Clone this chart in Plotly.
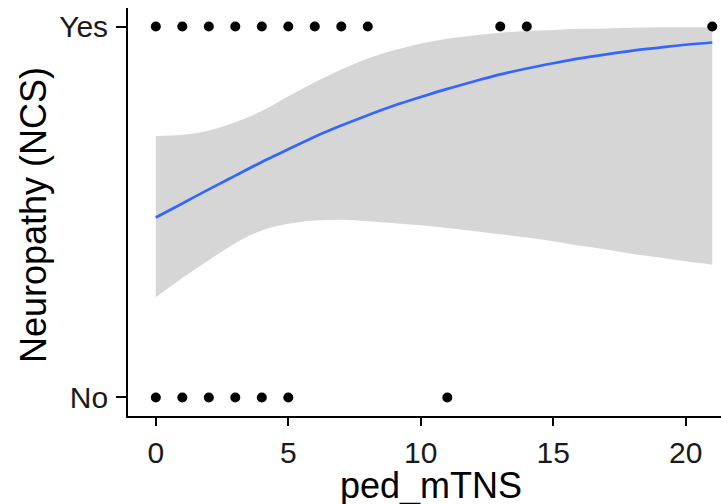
import plotly.graph_objects as go

# Observed outcomes by ped_mTNS score
yes_x = [0, 1, 2, 3, 4, 5, 6, 7, 8, 13, 14, 21]
no_x = [0, 1, 2, 3, 4, 5, 11]

# Logistic smooth (fitted probability with 95% band) evaluated at each score
grid_x = list(range(22))
fit_p = [0.485, 0.523, 0.561, 0.598, 0.635, 0.669, 0.703, 0.733, 0.761, 0.787, 0.810,
         0.832, 0.852, 0.871, 0.887, 0.901, 0.914, 0.925, 0.935, 0.943, 0.951, 0.957]
upper_p = [0.705, 0.708, 0.720, 0.742, 0.772, 0.812, 0.850, 0.884, 0.914, 0.936, 0.954,
           0.967, 0.976, 0.983, 0.988, 0.991, 0.994, 0.995, 0.997, 0.998, 0.998, 0.999]
lower_p = [0.270, 0.322, 0.370, 0.416, 0.450, 0.468, 0.477, 0.479, 0.475, 0.470, 0.464,
           0.457, 0.449, 0.440, 0.431, 0.421, 0.409, 0.399, 0.387, 0.377, 0.367, 0.358]

y_tickvals = [0, 1]
y_ticktext = ["No", "Yes"]
x_tickvals = [0, 5, 10, 15, 20]

FONT = "Liberation Sans, Arial, sans-serif"

fig = go.Figure()

# confidence band
fig.add_trace(go.Scatter(x=grid_x, y=upper_p, mode="lines", line=dict(width=0, shape="spline"),
                         hoverinfo="skip", showlegend=False))
fig.add_trace(go.Scatter(x=grid_x, y=lower_p, mode="lines", line=dict(width=0, shape="spline"),
                         fill="tonexty", fillcolor="rgba(153,153,153,0.4)",
                         hoverinfo="skip", showlegend=False))
# fitted curve
fig.add_trace(go.Scatter(x=grid_x, y=fit_p, mode="lines",
                         line=dict(color="#3366FF", width=2.7, shape="spline"),
                         showlegend=False))
# raw observations
fig.add_trace(go.Scatter(x=yes_x, y=[1] * len(yes_x), mode="markers",
                         marker=dict(color="black", size=10), showlegend=False))
fig.add_trace(go.Scatter(x=no_x, y=[0] * len(no_x), mode="markers",
                         marker=dict(color="black", size=10), showlegend=False))

fig.update_layout(
    width=721, height=504,
    margin=dict(l=128, r=0, t=8, b=88),
    paper_bgcolor="white", plot_bgcolor="white",
    font=dict(family=FONT, color="black"),
    xaxis=dict(range=[-1.05, 21.33], tickvals=x_tickvals, showgrid=False, zeroline=False,
               showline=True, linecolor="black", linewidth=1.8,
               ticks="outside", ticklen=8, tickwidth=1.6, tickcolor="black",
               ticklabelstandoff=1,
               tickfont=dict(size=30, color="#1a1a1a", family=FONT)),
    yaxis=dict(range=[-0.05, 1.05], tickvals=y_tickvals, ticktext=y_ticktext,
               showgrid=False, zeroline=False,
               showline=True, linecolor="black", linewidth=1.8,
               ticks="outside", ticklen=10, tickwidth=1.6, tickcolor="black",
               ticklabelstandoff=2,
               tickfont=dict(size=30, color="#1a1a1a", family=FONT)),
    annotations=[
        dict(text="ped_mTNS", xref="paper", yref="paper",
             x=(431 - 128) / 593, y=(416 - 485) / 408, xanchor="center", yanchor="middle",
             showarrow=False, font=dict(size=36, color="black", family=FONT)),
        dict(text="Neuropathy (NCS)", xref="paper", yref="paper", textangle=-90,
             x=(33 - 128) / 593, y=(416 - 215) / 408, xanchor="center", yanchor="middle",
             showarrow=False, font=dict(size=36, color="black", family=FONT)),
    ],
)

fig.write_html("out.html")
